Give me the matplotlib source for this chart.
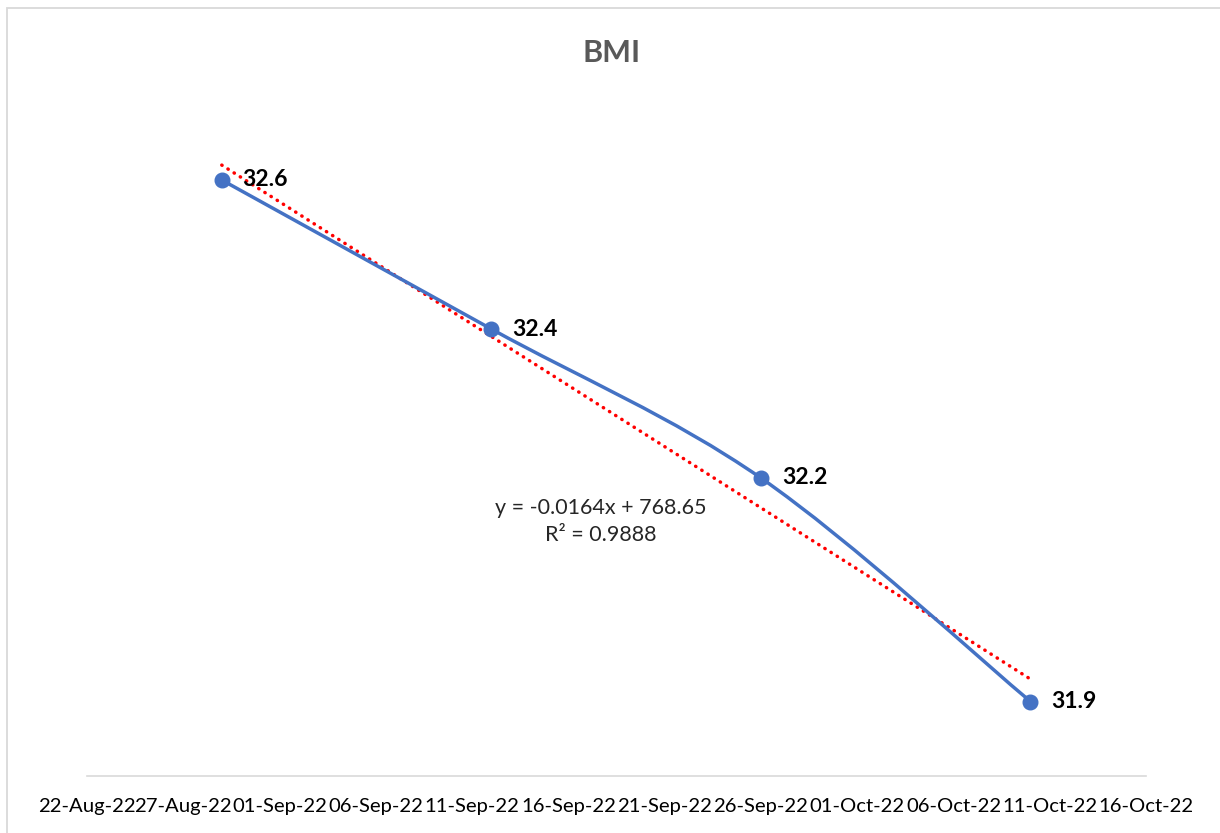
import datetime as dt
import matplotlib
matplotlib.use("Agg")
import matplotlib.pyplot as plt
import matplotlib.dates as mdates
from matplotlib.path import Path
from matplotlib.patches import PathPatch, Rectangle
import numpy as np

# weekly BMI readings
dates = [dt.date(2022, 8, 29), dt.date(2022, 9, 12), dt.date(2022, 9, 26), dt.date(2022, 10, 10)]
bmi = [32.6, 32.4, 32.2, 31.9]
axis_start = dt.date(2022, 8, 22)
axis_end = dt.date(2022, 10, 16)

BLUE = "#4472C4"
GREY = "#595959"
plt.rcParams["font.family"] = ["Lato", "DejaVu Sans"]

fig = plt.figure(figsize=(12.2, 8.33), dpi=100)
ax = fig.add_axes([87 / 1220, 1 - 776 / 833, (1146 - 87) / 1220, (776 - 105.5) / 833])

x = mdates.date2num(dates)
y = np.array(bmi)

# smoothed line: cubic bezier segments (catmull-rom style control points)
px = np.concatenate([[x[0]], x, [x[-1]]])
py = np.concatenate([[y[0]], y, [y[-1]]])
verts = [(x[0], y[0])]
codes = [Path.MOVETO]
for i in range(1, len(px) - 2):
    c1 = (px[i] + (px[i + 1] - px[i - 1]) / 6, py[i] + (py[i + 1] - py[i - 1]) / 6)
    c2 = (px[i + 1] - (px[i + 2] - px[i]) / 6, py[i + 1] - (py[i + 2] - py[i]) / 6)
    verts += [c1, c2, (px[i + 1], py[i + 1])]
    codes += [Path.CURVE4] * 3
ax.add_patch(PathPatch(Path(verts, codes), facecolor="none", edgecolor=BLUE, lw=2.5, zorder=3))
ax.plot(x, y, "o", color=BLUE, markersize=10.5, zorder=4)

for xi, yi in zip(x, y):
    ax.annotate(f"{yi:.1f}", (xi, yi), xytext=(15, 0), textcoords="offset points",
                ha="left", va="center", fontsize=16.5, fontweight="bold", color="black", zorder=5)

# linear trendline, fitted on excel serial day numbers
serial = x + 25569
slope, intercept = np.polyfit(serial, y, 1)
r2 = np.corrcoef(serial, y)[0, 1] ** 2
ax.plot(x, slope * serial + intercept, color="red", lw=2.5,
        linestyle=(0, (0.1, 2.0)), dash_capstyle="round", zorder=2)
eq_x = mdates.date2num(dt.date(2022, 9, 17)) + 0.7
ax.text(eq_x, 32.142, f"y = {slope:.4f}x + {intercept:.2f}\nR² = {r2:.4f}",
        ha="center", va="center", fontsize=15.5, color="#262626", linespacing=1.45)

ax.set_xlim(mdates.date2num(axis_start), mdates.date2num(axis_end))
ax.set_ylim(31.8, 32.7)
ticks = mdates.date2num([axis_start + dt.timedelta(days=5 * k) for k in range(12)])
ax.set_xticks(ticks)
ax.xaxis.set_major_formatter(mdates.DateFormatter("%d-%b-%y"))
ax.tick_params(axis="x", length=0, pad=16, labelsize=14.6, labelcolor="black")
ax.set_yticks([])
for side in ["left", "right", "top"]:
    ax.spines[side].set_visible(False)
ax.spines["bottom"].set_color("#d9d9d9")
ax.spines["bottom"].set_linewidth(1.2)
ax.set_facecolor("none")

fig.text(0.5016, 1 - 52.5 / 833, "BMI", ha="center", va="center",
         fontsize=22, fontweight="bold", color=GREY)

fig.patches.append(Rectangle((7 / 1220, -0.1), 1.2, 1 - 8 / 833 + 0.1, transform=fig.transFigure,
                             fill=False, edgecolor="#d9d9d9", lw=1.3))

fig.savefig("out.png", dpi=100)
